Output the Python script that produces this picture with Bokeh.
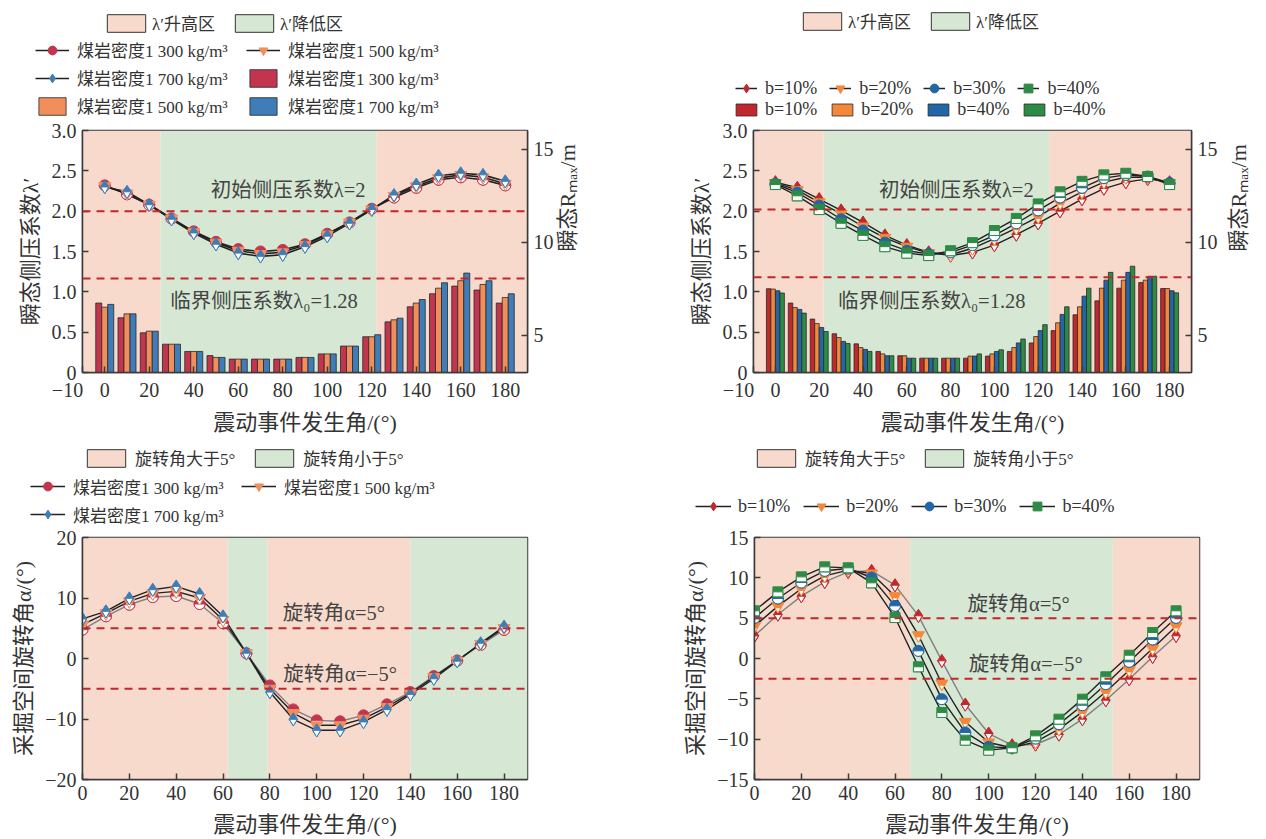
import math
from bokeh.plotting import figure
from bokeh.models import (Range1d, LinearAxis, FixedTicker, Legend, LegendItem,
                          Label, Span, ColumnDataSource, PrintfTickFormatter)
from bokeh.transform import dodge
from bokeh.layouts import column, row
from bokeh.embed import file_html
from bokeh.resources import INLINE

# ---------------- data ----------------
angles = [0, 10, 20, 30, 40, 50, 60, 70, 80, 90, 100, 110, 120, 130, 140, 150, 160, 170, 180]

density_labels = ["煤岩密度1 300 kg/m³", "煤岩密度1 500 kg/m³", "煤岩密度1 700 kg/m³"]
b_line_labels = ["b=10%", "b=20%", "b=30%", "b=40%"]
b_bar_labels = ["b=10%", "b=20%", "b=40%", "b=40%"]

# panel (a): transient lateral pressure coefficient, density series
lam_1300 = [2.32, 2.21, 2.08, 1.91, 1.75, 1.62, 1.53, 1.50, 1.52, 1.59, 1.72, 1.86, 2.03, 2.17, 2.29, 2.39, 2.42, 2.39, 2.32]
lam_1500 = [2.31, 2.22, 2.08, 1.91, 1.74, 1.61, 1.51, 1.47, 1.49, 1.58, 1.71, 1.86, 2.02, 2.19, 2.31, 2.41, 2.45, 2.42, 2.34]
lam_1700 = [2.30, 2.24, 2.08, 1.90, 1.73, 1.59, 1.48, 1.44, 1.46, 1.56, 1.69, 1.85, 2.02, 2.20, 2.33, 2.44, 2.47, 2.45, 2.37]
# panel (a): transient Rmax bars
R_1300 = [6.73, 5.94, 5.13, 4.52, 4.13, 3.91, 3.72, 3.72, 3.72, 3.81, 4.00, 4.42, 4.92, 5.72, 6.53, 7.23, 7.64, 7.43, 6.73]
R_1500 = [6.51, 6.15, 5.22, 4.52, 4.13, 3.81, 3.72, 3.72, 3.72, 3.81, 4.00, 4.42, 4.92, 5.83, 6.73, 7.53, 7.93, 7.73, 7.03]
R_1700 = [6.66, 6.15, 5.22, 4.52, 4.13, 3.81, 3.72, 3.72, 3.72, 3.81, 4.00, 4.42, 5.03, 5.92, 6.92, 7.82, 8.34, 7.93, 7.23]

# panel (b): b series
lam_b10 = [2.36, 2.29, 2.15, 2.01, 1.86, 1.70, 1.58, 1.49, 1.45, 1.49, 1.58, 1.71, 1.85, 2.00, 2.15, 2.28, 2.36, 2.40, 2.36]
lam_b20 = [2.35, 2.26, 2.11, 1.97, 1.81, 1.67, 1.56, 1.48, 1.46, 1.54, 1.66, 1.79, 1.93, 2.10, 2.24, 2.36, 2.42, 2.42, 2.35]
lam_b30 = [2.34, 2.23, 2.07, 1.90, 1.76, 1.61, 1.51, 1.47, 1.49, 1.58, 1.70, 1.85, 2.01, 2.17, 2.29, 2.41, 2.45, 2.43, 2.35]
lam_b40 = [2.33, 2.19, 2.02, 1.85, 1.70, 1.56, 1.48, 1.45, 1.51, 1.61, 1.76, 1.91, 2.09, 2.24, 2.37, 2.45, 2.47, 2.43, 2.33]
R_b10 = [7.50, 6.73, 5.87, 5.08, 4.54, 4.13, 3.90, 3.77, 3.77, 3.77, 3.88, 4.13, 4.59, 5.25, 6.10, 6.85, 7.53, 7.83, 7.51]
R_b20 = [7.48, 6.49, 5.63, 4.88, 4.34, 4.00, 3.90, 3.77, 3.77, 3.88, 4.00, 4.34, 4.93, 5.67, 6.53, 7.53, 7.96, 7.96, 7.51]
R_b30 = [7.39, 6.39, 5.42, 4.67, 4.24, 3.90, 3.77, 3.77, 3.77, 3.88, 4.13, 4.59, 5.25, 6.12, 7.10, 7.96, 8.38, 8.17, 7.39]
R_b40 = [7.27, 6.19, 5.20, 4.56, 4.13, 3.90, 3.77, 3.77, 3.77, 4.00, 4.22, 4.80, 5.57, 6.53, 7.53, 8.38, 8.71, 8.17, 7.28]

# panel (c): rotation angle, density series
rot_1300 = [4.78, 6.98, 8.90, 10.16, 10.33, 9.01, 5.82, 0.88, -4.45, -8.41, -10.22, -10.38, -9.40, -7.58, -5.55, -2.91, -0.33, 2.25, 4.73]
rot_1500 = [5.60, 7.47, 9.45, 10.77, 11.10, 10.00, 6.37, 0.88, -5.00, -9.01, -11.04, -11.04, -9.95, -8.02, -5.71, -3.08, -0.33, 2.42, 5.05]
rot_1700 = [6.54, 7.80, 9.95, 11.37, 11.92, 10.66, 6.98, 0.88, -5.55, -10.05, -11.87, -11.87, -10.49, -8.46, -5.93, -3.35, -0.44, 2.53, 5.27]

# panel (d): rotation angle, b series
rot_b10 = [2.81, 5.45, 7.73, 9.50, 10.74, 10.87, 9.09, 5.29, -0.29, -5.70, -9.30, -10.74, -10.66, -9.42, -7.52, -5.17, -2.56, 0.21, 2.81]
rot_b20 = [4.01, 6.49, 8.64, 10.25, 10.95, 10.54, 7.73, 2.89, -3.10, -7.85, -10.41, -11.07, -10.33, -8.76, -6.61, -4.13, -1.45, 1.24, 4.01]
rot_b30 = [5.04, 7.44, 9.42, 10.87, 11.16, 10.04, 6.53, 0.95, -5.04, -9.17, -10.95, -11.07, -9.92, -8.14, -5.79, -3.18, -0.41, 2.36, 5.04]
rot_b40 = [5.91, 8.26, 10.12, 11.36, 11.24, 9.38, 5.08, -1.03, -6.69, -10.12, -11.36, -11.07, -9.59, -7.52, -5.04, -2.27, 0.41, 3.22, 5.91]

# background zones (bounds + kind of each zone)
zones_a = [-10, 25, 122, 190]
zones_a_kind = ["up", "down", "up"]
zones_b = [-10, 22, 125, 190]
zones_b_kind = ["up", "down", "up"]
zones_c = [0, 62, 79, 140, 190]
zones_c_kind = ["up", "down", "up", "down"]
zones_d = [0, 66.5, 153, 190]
zones_d_kind = ["up", "down", "up"]

zone_labels_ab = ["λ′升高区", "λ′降低区"]
zone_labels_cd = ["旋转角大于5°", "旋转角小于5°"]

# reference (dashed) lines
ref_a = [2.0, 1.165]
ref_b = [2.02, 1.18]
ref_c = [5, -5]
ref_d = [5, -2.5]

x_ticks_top = [-10, 0, 20, 40, 60, 80, 100, 120, 140, 160, 180]
x_ticks_bot = [0, 20, 40, 60, 80, 100, 120, 140, 160, 180]
y_ticks_lam = [0, 0.5, 1.0, 1.5, 2.0, 2.5, 3.0]
y_ticks_R = [5, 10, 15]
y_ticks_c = [-20, -10, 0, 10, 20]
y_ticks_d = [-15, -10, -5, 0, 5, 10, 15]

# ---------------- style ----------------
FRAME_H = 242
TXT = "'Liberation Serif', 'Noto Sans CJK SC', serif"
AXC = "#3a3a3a"
DASH = "#C1272D"
PINK = "#F8DACD"
GREEN = "#D6E8D3"
LINE = "#222222"
GREY_LINE = "#808080"
C3 = ["#C3354F", "#F28E5C", "#3E7DB8"]
C4 = ["#C1272D", "#F4883A", "#2366A8", "#2E8B45"]
W = 633
TOP_STRIP, TOP_CHART = 120, 318
BOT_STRIP, BOT_CHART = 89, 312


def style_axis(ax):
    ax.axis_line_color = AXC
    ax.axis_line_width = 1.5
    ax.major_tick_line_color = AXC
    ax.major_tick_line_width = 1.5
    ax.major_tick_in = 6
    ax.major_tick_out = 0
    ax.minor_tick_line_color = None
    ax.major_label_text_font = TXT
    ax.major_label_text_font_size = "20px"
    ax.major_label_text_color = "#333333"
    ax.major_label_standoff = 6
    ax.axis_label_text_font = TXT
    ax.axis_label_text_font_size = "22px"
    ax.axis_label_text_font_style = "normal"
    ax.axis_label_text_color = "#333333"
    ax.axis_label_standoff = 6


def make_fig(h, xr, yr, left, right, bottom, xticks, yticks, xlabel, ylabel):
    p = figure(width=W, height=h, x_range=Range1d(*xr), y_range=Range1d(*yr),
               output_backend="svg", toolbar_location=None,
               min_border_left=left, min_border_right=right,
               min_border_top=10, min_border_bottom=bottom)
    p.xgrid.visible = False
    p.ygrid.visible = False
    p.outline_line_color = AXC
    p.outline_line_width = 1.5
    p.background_fill_color = "white"
    p.border_fill_color = "white"
    p.xaxis.ticker = FixedTicker(ticks=xticks)
    p.yaxis.ticker = FixedTicker(ticks=yticks)
    p.xaxis.axis_label = xlabel
    p.yaxis.axis_label = ylabel
    for ax in list(p.xaxis) + list(p.yaxis):
        style_axis(ax)
    return p


def legend_fig(h):
    f = figure(width=W, height=h, x_range=Range1d(0, 1), y_range=Range1d(0, 1),
               x_axis_type=None, y_axis_type=None, output_backend="svg",
               toolbar_location=None, min_border=0)
    f.outline_line_color = None
    f.background_fill_color = "white"
    f.border_fill_color = "white"
    return f


def zone_lists(bounds, kinds, kind):
    lefts = [bounds[i] for i, k in enumerate(kinds) if k == kind]
    rights = [bounds[i + 1] for i, k in enumerate(kinds) if k == kind]
    return lefts, rights


def draw_zones(p, bounds, kinds, y0, y1):
    for kind, col in (("up", PINK), ("down", GREEN)):
        lefts, rights = zone_lists(bounds, kinds, kind)
        p.quad(left=lefts, right=rights, bottom=y0, top=y1, fill_color=col, line_color=None)


def shift_range(p, k):
    name = "shift_%d" % int(round(k * 100))
    if name not in p.extra_y_ranges:
        y0, y1 = p.y_range.start, p.y_range.end
        d = k * (y1 - y0) / FRAME_H
        rngs = dict(p.extra_y_ranges)
        rngs[name] = Range1d(y0 + d, y1 + d)
        p.extra_y_ranges = rngs
    return name


def draw_markers(p, xs, ys, kind, color, s):
    src = ColumnDataSource(dict(x=xs, y=ys))
    p.scatter("x", "y", source=src, marker=kind, size=s, fill_color=color,
              line_color=color, line_width=1)
    if kind == "circle":
        p.wedge("x", "y", source=src, radius=s / 2, radius_units="screen",
                start_angle=math.pi, end_angle=2 * math.pi, fill_color="white",
                line_color=color, line_width=1)
    elif kind == "diamond":
        rt = 0.3 * s
        name = shift_range(p, rt * math.sqrt(3) / 3)
        p.scatter("x", "y", source=src, marker="inverted_triangle", size=2 * rt,
                  fill_color="white", line_color=color, line_width=1, y_range_name=name)
    elif kind == "inverted_triangle":
        name = shift_range(p, s * math.sqrt(3) / 6)
        p.scatter("x", "y", source=src, marker="inverted_triangle", size=s / 2,
                  fill_color="white", line_color=color, line_width=1, y_range_name=name)
    elif kind == "square":
        name = shift_range(p, s / 4)
        p.rect("x", "y", source=src, width=s, height=s / 2, width_units="screen",
               height_units="screen", fill_color="white", line_color=color,
               line_width=1, y_range_name=name)


# hidden copies of the series inside the legend strips (they only feed the legends)
def lg_line_marker(f, ys, kind, color):
    return [f.line(angles, ys, line_color=LINE, line_width=1.5, visible=False),
            f.scatter(angles, ys, marker=kind, fill_color=color, line_color=color,
                      line_width=1, visible=False)]


def lg_bar(f, tops, color):
    return [f.vbar(x=angles, top=tops, width=2, fill_color=color, line_color="#2a2a2a",
                   line_width=0.8, visible=False)]


def lg_zone(f, bounds, kinds, kind, color):
    lefts, rights = zone_lists(bounds, kinds, kind)
    return [f.quad(left=lefts, right=rights, bottom=0, top=1, fill_color=color,
                   line_color="#333333", line_width=1, visible=False)]


def add_legend(f, items, left_px, bottom_px, gw, gh, spacing, fs="17px", standoff=6,
               ncols=None, lw=20):
    """Legend positioned by its bottom-left corner in pixels of the legend strip."""
    lg = Legend(items=items, location=(left_px, f.height - bottom_px), orientation="horizontal",
                glyph_width=gw, glyph_height=gh, spacing=int(spacing),
                label_standoff=standoff, label_width=lw, label_height=20,
                label_text_font=TXT, label_text_font_size=fs, label_text_color="#333333",
                padding=0, margin=0, border_line_color=None, background_fill_alpha=0,
                inactive_fill_alpha=0)
    if ncols:
        lg.ncols = ncols
    f.add_layout(lg, "center")
    return lg


def add_refs(p, levels):
    for v in levels:
        p.add_layout(Span(location=v, dimension="width", line_color=DASH,
                          line_dash="8 6", line_width=2))


def add_label(p, x, y, text):
    p.add_layout(Label(x=x, y=y, text=text, text_align="center", text_baseline="middle",
                       text_font=TXT, text_font_size="20.5px", text_color="#444444"))


def right_axis(p, standoff):
    p.extra_y_ranges = dict(p.extra_y_ranges, R=Range1d(3, 16))
    ax = LinearAxis(y_range_name="R", ticker=FixedTicker(ticks=y_ticks_R),
                    axis_label="瞬态Rₘₐₓ/m")
    style_axis(ax)
    try:
        ax.axis_label_orientation = math.pi / 2
    except Exception:
        pass
    ax.axis_label_standoff = standoff
    p.add_layout(ax, "right")


XLAB = "震动事件发生角/(°)"
NEG10 = {-10: "−10\u2003\u2002"}
kinds3 = ["circle", "inverted_triangle", "diamond"]
kinds4 = ["diamond", "inverted_triangle", "circle", "square"]
sizes3 = [11, 12, 13]
sizes4 = [13, 12, 11, 10]

# ================= panel (a) =================
L1 = legend_fig(TOP_STRIP)
p1 = make_fig(TOP_CHART, (-10, 190), (0, 3), 82, 106, 66, x_ticks_top, y_ticks_lam,
              XLAB, "瞬态侧压系数λ′")
p1.xaxis.major_label_overrides = NEG10
p1.yaxis.formatter = PrintfTickFormatter(format="%.1f")
p1.yaxis.major_label_overrides = {0: "0"}
right_axis(p1, 11)
draw_zones(p1, zones_a, zones_a_kind, 0, 3)
srcA = ColumnDataSource(dict(a=angles, r1=R_1300, r2=R_1500, r3=R_1700))
for key, off, col in (("r1", -2.7, C3[0]), ("r2", 0.0, C3[1]), ("r3", 2.7, C3[2])):
    p1.vbar(x=dodge("a", off, range=p1.x_range), top=key, bottom=3, width=2.7,
            source=srcA, y_range_name="R", fill_color=col,
            line_color="#2a2a2a", line_width=0.8)
add_refs(p1, ref_a)
lamA = [lam_1300, lam_1500, lam_1700]
RA = [R_1300, R_1500, R_1700]
for s in lamA:
    p1.line(angles, s, line_color=LINE, line_width=1.6)
for s, k, c, sz in zip(lamA, kinds3, C3, sizes3):
    draw_markers(p1, angles, s, k, c, sz)
add_label(p1, 82.4, 2.26, "初始侧压系数λ=2")
add_label(p1, 71.6, 0.89, "临界侧压系数λ₀=1.28")
itemsA = [LegendItem(label=density_labels[i], renderers=lg_line_marker(L1, lamA[i], kinds3[i], C3[i])) for i in range(3)]
itemsA += [LegendItem(label=density_labels[i], renderers=lg_bar(L1, RA[i], C3[i])) for i in range(3)]
add_legend(L1, itemsA, 35, 118, 34, 22, 3, ncols=2, lw=166, standoff=8)
add_legend(L1, [LegendItem(label=zone_labels_ab[0], renderers=lg_zone(L1, zones_a, zones_a_kind, "up", PINK)),
                LegendItem(label=zone_labels_ab[1], renderers=lg_zone(L1, zones_a, zones_a_kind, "down", GREEN))],
           102, 35, 48, 22, 15, standoff=2)

# ================= panel (b) =================
L2 = legend_fig(TOP_STRIP)
p2 = make_fig(TOP_CHART, (-10, 190), (0, 3), 120, 66, 66, x_ticks_top, y_ticks_lam,
              XLAB, "瞬态侧压系数λ′")
p2.xaxis.major_label_overrides = NEG10
p2.yaxis.formatter = PrintfTickFormatter(format="%.1f")
p2.yaxis.major_label_overrides = {0: "0"}
right_axis(p2, 18)
draw_zones(p2, zones_b, zones_b_kind, 0, 3)
srcB = ColumnDataSource(dict(a=angles, r1=R_b10, r2=R_b20, r3=R_b30, r4=R_b40))
for key, off, col in (("r1", -3.08, C4[0]), ("r2", -1.03, C4[1]), ("r3", 1.03, C4[2]), ("r4", 3.08, C4[3])):
    p2.vbar(x=dodge("a", off, range=p2.x_range), top=key, bottom=3, width=2.05,
            source=srcB, y_range_name="R", fill_color=col,
            line_color="#2a2a2a", line_width=0.8)
add_refs(p2, ref_b)
lamB = [lam_b10, lam_b20, lam_b30, lam_b40]
RB = [R_b10, R_b20, R_b30, R_b40]
for s in lamB:
    p2.line(angles, s, line_color=LINE, line_width=1.4)
for s, k, c, sz in zip(lamB, kinds4, C4, sizes4):
    draw_markers(p2, angles, s, k, c, sz)
add_label(p2, 82.6, 2.26, "初始侧压系数λ=2")
add_label(p2, 71.4, 0.89, "临界侧压系数λ₀=1.28")
add_legend(L2, [LegendItem(label=b_line_labels[i], renderers=lg_line_marker(L2, lamB[i], kinds4[i], C4[i])) for i in range(4)],
           102, 100, 22, 24, 12, fs="18px", standoff=8)
add_legend(L2, [LegendItem(label=b_bar_labels[i], renderers=lg_bar(L2, RB[i], C4[i])) for i in range(4)],
           100, 120, 26, 15, 12, fs="18px", standoff=6)
add_legend(L2, [LegendItem(label=zone_labels_ab[0], renderers=lg_zone(L2, zones_b, zones_b_kind, "up", PINK)),
                LegendItem(label=zone_labels_ab[1], renderers=lg_zone(L2, zones_b, zones_b_kind, "down", GREEN))],
           165, 33, 48, 22, 15, standoff=2)

# ================= panel (c) =================
L3 = legend_fig(BOT_STRIP)
p3 = make_fig(BOT_CHART, (0, 190), (-20, 20), 82, 106, 60, x_ticks_bot, y_ticks_c,
              XLAB, "采掘空间旋转角α/(°)")
p3.xaxis.axis_label_standoff = 9
draw_zones(p3, zones_c, zones_c_kind, -20, 20)
add_refs(p3, ref_c)
rotC = [rot_1300, rot_1500, rot_1700]
line_cols_c = [GREY_LINE, LINE, LINE]
for s, lc in zip(rotC, line_cols_c):
    p3.line(angles, s, line_color=lc, line_width=1.4)
for s, k, c, sz in zip(rotC, kinds3, C3, sizes3):
    draw_markers(p3, angles, s, k, c, sz)
add_label(p3, 107.3, 7.6, "旋转角α=5°")
add_label(p3, 110.0, -2.5, "旋转角α=−5°")
add_legend(L3, [LegendItem(label=density_labels[i], renderers=lg_line_marker(L3, rotC[i], kinds3[i], C3[i])) for i in range(3)],
           30, 88.5, 35, 22, 3, ncols=2, lw=165, standoff=8)
add_legend(L3, [LegendItem(label=zone_labels_cd[0], renderers=lg_zone(L3, zones_c, zones_c_kind, "up", PINK)),
                LegendItem(label=zone_labels_cd[1], renderers=lg_zone(L3, zones_c, zones_c_kind, "down", GREEN))],
           82, 32, 48, 22, 15, standoff=5)

# ================= panel (d) =================
L4 = legend_fig(BOT_STRIP)
p4 = make_fig(BOT_CHART, (0, 190), (-15, 15), 121, 67, 60, x_ticks_bot, y_ticks_d,
              XLAB, "采掘空间旋转角α/(°)")
p4.xaxis.axis_label_standoff = 9
draw_zones(p4, zones_d, zones_d_kind, -15, 15)
add_refs(p4, ref_d)
rotD = [rot_b10, rot_b20, rot_b30, rot_b40]
line_cols_d = [GREY_LINE, LINE, LINE, LINE]
for s, lc in zip(rotD, line_cols_d):
    p4.line(angles, s, line_color=lc, line_width=1.4)
for s, k, c, sz in zip(rotD, kinds4, C4, sizes4):
    draw_markers(p4, angles, s, k, c, sz)
add_label(p4, 112.8, 6.8, "旋转角α=5°")
add_label(p4, 115.8, -0.7, "旋转角α=−5°")
add_legend(L4, [LegendItem(label=b_line_labels[i], renderers=lg_line_marker(L4, rotD[i], kinds4[i], C4[i])) for i in range(4)],
           62, 79, 36, 22, 13, fs="18px", standoff=7)
add_legend(L4, [LegendItem(label=zone_labels_cd[0], renderers=lg_zone(L4, zones_d, zones_d_kind, "up", PINK)),
                LegendItem(label=zone_labels_cd[1], renderers=lg_zone(L4, zones_d, zones_d_kind, "down", GREEN))],
           119, 32, 48, 22, 15, standoff=5)

layout = column(row(column(row(L1), p1), column(row(L2), p2)),
                row(L3, L4),
                row(p3, p4))
open("out.html", "w").write(file_html(layout, INLINE))
